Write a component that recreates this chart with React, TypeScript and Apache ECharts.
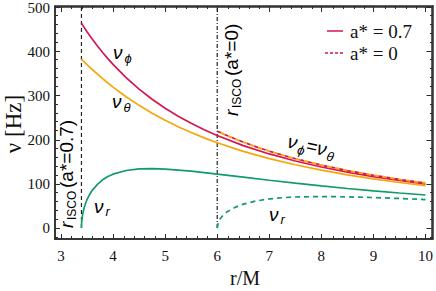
import React, { useEffect, useRef } from "react";
import * as echarts from "echarts";

// ---- data ----
const rSpin = [3.393, 3.395, 3.4, 3.42, 3.45, 3.5, 3.55, 3.6, 3.7, 3.8, 3.9, 4, 4.25, 4.5, 4.75, 5, 5.25, 5.5, 5.75, 6, 6.5, 7, 7.5, 8, 8.5, 9, 9.5, 10];
const nuPhiSpin = [464.3, 464.0, 463.0, 459.4, 454.0, 445.2, 436.7, 428.5, 412.9, 398.0, 384.1, 370.9, 341.1, 315.0, 292.0, 271.6, 253.6, 237.3, 222.7, 209.6, 186.8, 167.9, 151.9, 138.3, 126.6, 116.5, 107.6, 99.8];
const nuThetaSpin = [382.8, 382.6, 382.0, 379.7, 376.2, 370.5, 365.0, 359.4, 348.8, 338.6, 328.8, 319.5, 297.7, 278.1, 260.3, 244.2, 229.7, 216.4, 204.4, 193.3, 173.8, 157.4, 143.3, 131.2, 120.6, 111.4, 103.2, 96.0];
const nuRSpin = [0, 9.0, 17.1, 33.6, 48.2, 64.4, 76.0, 85.4, 99.0, 109.2, 116.6, 122.0, 130.3, 133.9, 134.6, 133.6, 131.4, 128.8, 125.7, 122.3, 115.2, 108.2, 101.5, 95.3, 89.5, 84.2, 79.3, 74.8];

const rNoSpin = [6, 6.02, 6.05, 6.1, 6.2, 6.35, 6.5, 6.75, 7, 7.25, 7.5, 8, 8.5, 9, 9.5, 10];
const nuPhiThetaNoSpin = [219.6, 218.5, 216.9, 214.2, 209.0, 201.7, 194.7, 184.0, 174.2, 165.3, 157.1, 142.6, 130.2, 119.5, 110.2, 102.0];
const nuRNoSpin = [0, 12.6, 19.7, 27.4, 37.5, 47.3, 54.0, 61.3, 65.9, 68.6, 70.3, 71.3, 70.6, 69.0, 66.9, 64.5];

const rIscoSpin = 3.393;
const rIscoNoSpin = 6;

const xMin = 2.885;
const xMax = 10.115;
const yMin = -25;
const yMax = 501;
const xMajor = [3, 4, 5, 6, 7, 8, 9, 10];
const xMinor = [3.2, 3.4, 3.6, 3.8, 4.2, 4.4, 4.6, 4.8, 5.2, 5.4, 5.6, 5.8, 6.2, 6.4, 6.6, 6.8, 7.2, 7.4, 7.6, 7.8, 8.2, 8.4, 8.6, 8.8, 9.2, 9.4, 9.6, 9.8];
const yMajor = [0, 100, 200, 300, 400, 500];
const yMinor = [-20, 20, 40, 60, 80, 120, 140, 160, 180, 220, 240, 260, 280, 320, 340, 360, 380, 420, 440, 460, 480];

const RED = "#d4174f";
const ORANGE = "#f8a50c";
const GREEN = "#109c66";
const FRAME = "#2b2b2b";
const SANS = '"Liberation Sans", Arial, sans-serif';
const SERIF = '"Liberation Serif", "Times New Roman", serif';

const zip = (xs: number[], ys: number[]) => xs.map((x, i) => [x, ys[i]]);

function txt(x: number, y: number, text: string, font: string) {
  return { type: "text", x, y, style: { text, font, fill: "#000", align: "left", verticalAlign: "middle" } };
}

function nu(x: number, y: number, sub: string, dy = 6) {
  return {
    type: "group",
    x,
    y,
    children: [txt(0, 0, "ν", `italic 19px ${SANS}`), txt(11.5, dy, sub, `italic 13px ${SANS}`)],
  };
}

function isco(x: number, y: number, tail: string) {
  return {
    type: "group",
    x,
    y,
    rotation: Math.PI / 2,
    children: [
      txt(0, 0, "r", `italic 19px ${SANS}`),
      txt(8, 6, "ISCO", `12px ${SANS}`),
      txt(40, 0, tail, `19px ${SANS}`),
    ],
  };
}

function frameAxis(kind: "x" | "y", position: string, labels: boolean, gridIndex: number, ticks: number[], len: number) {
  return {
    type: "value",
    gridIndex,
    position,
    min: kind === "x" ? xMin : yMin,
    max: kind === "x" ? xMax : yMax,
    axisLine: { show: true, onZero: false, lineStyle: { color: FRAME, width: 1.5 } },
    axisTick: { show: true, inside: true, length: len, customValues: ticks, lineStyle: { color: FRAME, width: 1 } },
    axisLabel: labels
      ? {
          show: true,
          customValues: ticks,
          color: "#111",
          fontFamily: SERIF,
          fontSize: 15,
          margin: kind === "x" ? 9 : 5,
          formatter: (v: number) => String(Math.round(v)),
        }
      : { show: false },
    splitLine: { show: false },
  };
}

const curve = (data: number[][], color: string, width: number, type: any = "solid", dashOffset = 0) => ({
  type: "line",
  data,
  symbol: "none",
  smooth: false,
  silent: true,
  lineStyle: { color, width, type, dashOffset },
});

export default function App() {
  const ref = useRef<HTMLDivElement>(null);
  useEffect(() => {
    if (!ref.current) return;
    const chart = echarts.init(ref.current, undefined, { renderer: "svg" });
    const gridRect = { left: 55, right: 3, top: 6, bottom: 52 };
    const option: any = {
      animation: false,
      grid: [
        { ...gridRect, containLabel: false },
        { ...gridRect, containLabel: false },
      ],
      xAxis: [
        frameAxis("x", "bottom", true, 0, xMajor, 5),
        frameAxis("x", "top", false, 0, xMajor, 5),
        frameAxis("x", "bottom", false, 1, xMinor, 3),
        frameAxis("x", "top", false, 1, xMinor, 3),
      ],
      yAxis: [
        frameAxis("y", "left", true, 0, yMajor, 5),
        frameAxis("y", "right", false, 0, yMajor, 5),
        frameAxis("y", "left", false, 1, yMinor, 3),
        frameAxis("y", "right", false, 1, yMinor, 3),
      ],
      series: [
        curve([[rIscoSpin, 0], [rIscoSpin, yMax]], "#222", 1.2, [4, 3]),
        curve([[rIscoNoSpin, 0], [rIscoNoSpin, yMax]], "#222", 1.2, [4, 2, 1, 2]),
        curve(zip(rSpin, nuThetaSpin), ORANGE, 1.7),
        curve(zip(rSpin, nuPhiSpin), RED, 1.7),
        curve(zip(rSpin, nuRSpin), GREEN, 1.7),
        curve(zip(rNoSpin, nuPhiThetaNoSpin), RED, 1.7, [4, 4]),
        curve(zip(rNoSpin, nuPhiThetaNoSpin), ORANGE, 2, [4, 4], 4),
        curve(zip(rNoSpin, nuRNoSpin), GREEN, 1.7, [5, 4]),
      ],
      graphic: [
        { type: "text", x: 13, y: 124, rotation: Math.PI / 2, style: { text: "ν [Hz]", font: `23px ${SERIF}`, fill: "#111", align: "center", verticalAlign: "middle" } },
        { type: "text", x: 245, y: 278, style: { text: "r/M", font: `20px ${SERIF}`, fill: "#111", align: "center", verticalAlign: "middle" } },
        { type: "line", shape: { x1: 327, y1: 31, x2: 343, y2: 31 }, style: { stroke: RED, lineWidth: 1.5 } },
        { type: "text", x: 350, y: 31, style: { text: "a* = 0.7", font: `19px ${SERIF}`, fill: "#111", align: "left", verticalAlign: "middle" } },
        { type: "line", shape: { x1: 325, y1: 53, x2: 343, y2: 53 }, style: { stroke: RED, lineWidth: 1.5, lineDash: [3, 2] } },
        { type: "text", x: 350, y: 53, style: { text: "a* = 0", font: `19px ${SERIF}`, fill: "#111", align: "left", verticalAlign: "middle" } },
        nu(113, 52, "ϕ", 6),
        nu(112, 101, "θ", 6),
        nu(94, 206, "r", 5),
        nu(269, 214, "r", 5),
        {
          type: "group",
          x: 288,
          y: 141,
          rotation: -0.22,
          children: [
            txt(0, 0, "ν", `italic 19px ${SANS}`),
            txt(11, 6, "ϕ", `italic 13px ${SANS}`),
            txt(19, 0, "=", `19px ${SANS}`),
            txt(30, 0, "ν", `italic 19px ${SANS}`),
            txt(41, 6, "θ", `italic 13px ${SANS}`),
          ],
        },
        isco(66, 228, "(a*=0.7)"),
        isco(231, 116, "(a*=0)"),
      ],
    };
    chart.setOption(option);
    return () => chart.dispose();
  }, []);
  return <div ref={ref} style={{ width: 436, height: 291, position: "absolute", left: 0, top: 0 }} />;
}
